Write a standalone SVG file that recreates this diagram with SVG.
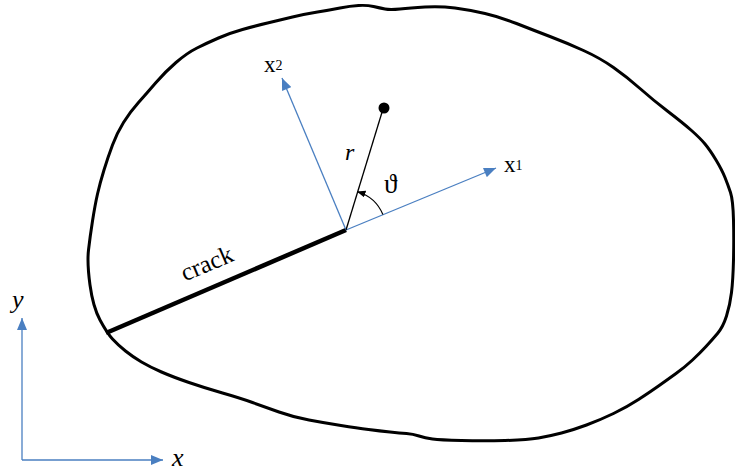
<svg xmlns="http://www.w3.org/2000/svg" width="735" height="473" viewBox="0 0 735 473">
<style>
.blue{stroke:#4a7fc1;stroke-width:1.3;fill:none}
.t{font-family:"Liberation Serif","DejaVu Serif",serif;fill:#000}
.it{font-style:italic}
</style>
<defs>
<marker id="ab" viewBox="0 0 12 10" refX="12" refY="5" markerWidth="14" markerHeight="10" markerUnits="userSpaceOnUse" orient="auto">
<path d="M0,0 L12,5 L0,10 Z" fill="#4a7fc1"/>
</marker>
<marker id="ak" viewBox="0 0 10 8" refX="9" refY="4" markerWidth="9" markerHeight="7" markerUnits="userSpaceOnUse" orient="auto">
<path d="M0,0 L10,4 L0,8 Z" fill="#000"/>
</marker>
</defs>
<rect width="735" height="473" fill="#fff"/>
<g id="body">
<path d="M112.5,339 Q107,333 100,320 Q93,307 90,285 Q87,263 88.5,250 Q90,237 92.5,221 Q95,205 97.5,194 Q100,183 104,170 Q108,157 112.5,145 Q117,133 123.5,122.5 Q130,112 138.5,102.5 Q147,93 156,82.5 Q165,72 176,62.5 Q187,53 197,48 Q207,43 218.5,38 Q230,33 242.5,29.5 Q255,26 267.5,23 Q280,20 292.5,17 Q305,14 317.5,12 Q330,10 340,8 Q350,6 358.5,5.5 Q367,5 373.5,6.5 Q380,8 385,9 Q390,10 400,9 Q410,8 425,7 Q440,6 455,8 Q470,10 485,13.5 Q500,17 516.5,23.5 Q533,30 550,36.5 Q567,43 583.5,50.5 Q600,58 613.5,67.5 Q627,77 640,88.5 Q653,100 668,111.5 Q683,123 691.5,130.5 Q700,138 705,144 Q710,150 716,160 Q722,170 725,177.5 Q728,185 730.5,192.5 Q733,200 733.5,220 Q734,240 733.5,260 Q733,280 731.5,292.5 Q730,305 726.5,316 Q723,327 717.5,333.5 Q712,340 706,346.5 Q700,353 692.5,360 Q685,367 676,373.5 Q667,380 658.5,386 Q650,392 638.5,399.5 Q627,407 613.5,413.5 Q600,420 586.5,425 Q573,430 561.5,433 Q550,436 538.5,438 Q527,440 505,440.5 Q483,441 461.5,440.5 Q440,440 432.5,439 Q425,438 419,436 Q413,434 406.5,433.5 Q400,433 390,432 Q380,431 368.5,429.5 Q357,428 341,425.5 Q325,423 309,420 Q293,417 279,412 Q265,407 252.5,402.5 Q240,398 222.5,393 Q205,388 189,382.5 Q173,377 161.5,372 Q150,367 141.5,362 Q133,357 125.5,351 Q118,345 112.5,339 Z" fill="none" stroke="#000" stroke-width="3" stroke-linejoin="round"/>
</g>
<g id="crack">
<line x1="106" y1="333" x2="346" y2="230" stroke="#000" stroke-width="4.5"/>
<text class="t" x="210" y="271" font-size="25" text-anchor="middle" transform="rotate(-23 210 271)">crack</text>
</g>
<g id="connectors">
<line class="blue" x1="346" y1="230" x2="496" y2="168" marker-end="url(#ab)"/>
<line class="blue" x1="346" y1="230" x2="282" y2="78" marker-end="url(#ab)"/>
<line class="blue" x1="22" y1="460" x2="22" y2="318" marker-end="url(#ab)"/>
<line class="blue" x1="22" y1="460" x2="163" y2="460" marker-end="url(#ab)"/>
<line x1="346" y1="230" x2="383" y2="109" stroke="#000" stroke-width="1.3"/>
<path d="M382.9,214.5 A40,40 0 0 0 357.6,191.7" fill="none" stroke="#000" stroke-width="1.2" marker-end="url(#ak)"/>
</g>
<g id="point">
<circle cx="384" cy="108" r="5.5" fill="#000"/>
</g>
<g id="labels">
<text class="t" x="504" y="172" font-size="23">x<tspan font-size="14" dy="-2">1</tspan></text>
<text class="t" x="264" y="72" font-size="23">x<tspan font-size="14" dy="-2">2</tspan></text>
<text class="t it" x="345" y="160" font-size="24">r</text>
<text class="t" x="384" y="193" font-size="27">ϑ</text>
<text class="t it" x="12" y="308" font-size="26">y</text>
<text class="t it" x="172" y="466" font-size="26">x</text>
</g>
</svg>
